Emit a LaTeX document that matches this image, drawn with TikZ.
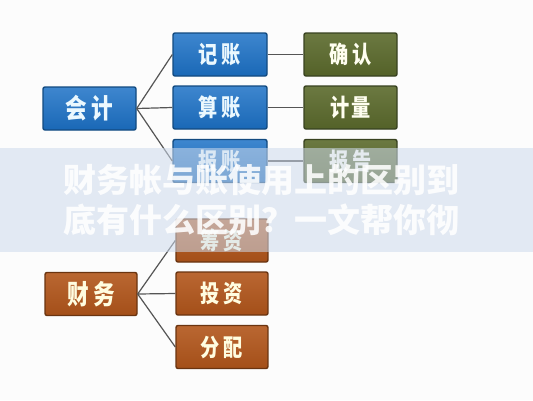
\documentclass[tikz,border=0pt]{standalone}
\usepackage{fontspec}
\newfontfamily\cjk{Noto Sans CJK SC}
\usepackage{graphicx}
\definecolor{bluebox}{HTML}{1C71C6}
\definecolor{blueedge}{HTML}{124A80}
\definecolor{greenbox}{HTML}{5B6A2C}
\definecolor{greenedge}{HTML}{384220}
\definecolor{orangebox}{HTML}{B2561B}
\definecolor{orangeedge}{HTML}{6A3410}
\definecolor{bandcol}{RGB}{206,219,237}
\definecolor{linkcol}{HTML}{555555}
\newcommand{\boxtxt}[2]{\scalebox{0.8}[1]{\fontsize{#1}{#1}\selectfont\bfseries #2}}
\begin{document}
\begin{tikzpicture}[x=1pt,y=-1pt,
  boxbase/.style={rounded corners=2pt, line width=1.4pt, minimum height=43pt, inner sep=0pt, font=\cjk},
  bluenode/.style={boxbase, top color=bluebox!85!white, bottom color=bluebox!92!black, draw=blueedge, text=white!92!cyan, minimum width=94pt},
  greennode/.style={boxbase, top color=greenbox!90!white, bottom color=greenbox!92!black, draw=greenedge, text=white!94!yellow, minimum width=93pt},
  orangenode/.style={boxbase, top color=orangebox!90!white, bottom color=orangebox!92!black, draw=orangeedge, text=white!88!yellow, minimum width=92pt},
  link/.style={draw=linkcol, line width=1.2pt},
  bandtext/.style={anchor=west, inner sep=0pt, text=white, text opacity=0.88, font=\cjk\bfseries\fontsize{33}{33}\selectfont}
]
\fill[white!98!gray] (0,0) rectangle (533,400);
\useasboundingbox (0,0) rectangle (533,400);

% accounting tree
\node[bluenode, minimum width=93pt] (kj) at (89.5,108.5) {\boxtxt{27}{会\hspace{6pt}计}};
\node[bluenode] (jz) at (220,54.5) {\boxtxt{24}{记\hspace{5pt}账}};
\node[bluenode] (sz) at (220,107.5) {\boxtxt{24}{算\hspace{5pt}账}};
\node[bluenode] (bz) at (220,161) {\boxtxt{24}{报\hspace{5pt}账}};
\node[greennode] (qr) at (350.5,54.5) {\boxtxt{24}{确\hspace{5pt}认}};
\node[greennode] (jl) at (350.5,107.5) {\boxtxt{24}{计\hspace{3pt}量}};
\node[greennode] (bg) at (350.5,161) {\boxtxt{24}{报\hspace{5pt}告}};

% finance tree
\node[orangenode] (cw) at (91,294) {\boxtxt{27}{财\hspace{6pt}务}};
\node[orangenode] (cz) at (222,240.5) {\boxtxt{24}{筹\hspace{5pt}资}};
\node[orangenode] (tz) at (222,293.5) {\boxtxt{24}{投\hspace{5pt}资}};
\node[orangenode] (fp) at (222,347) {\boxtxt{24}{分\hspace{5pt}配}};

\foreach \c in {jz,sz,bz} \draw[link] (kj.east) -- (\c.west);
\draw[link] (jz.east) -- (qr.west);
\draw[link] (sz.east) -- (jl.west);
\draw[link] (bz.east) -- (bg.west);
\foreach \c in {cz,tz,fp} \draw[link] (cw.east) -- (\c.west);

% overlay band with title
\fill[bandcol, fill opacity=0.55] (0,148) rectangle (533,252);
\node[bandtext] (t1) at (63,180) {财务帐与账使用上的区别到};
\node[bandtext] (t2) at (63,220) {底有什么区别？一文帮你彻};
\end{tikzpicture}
\end{document}
